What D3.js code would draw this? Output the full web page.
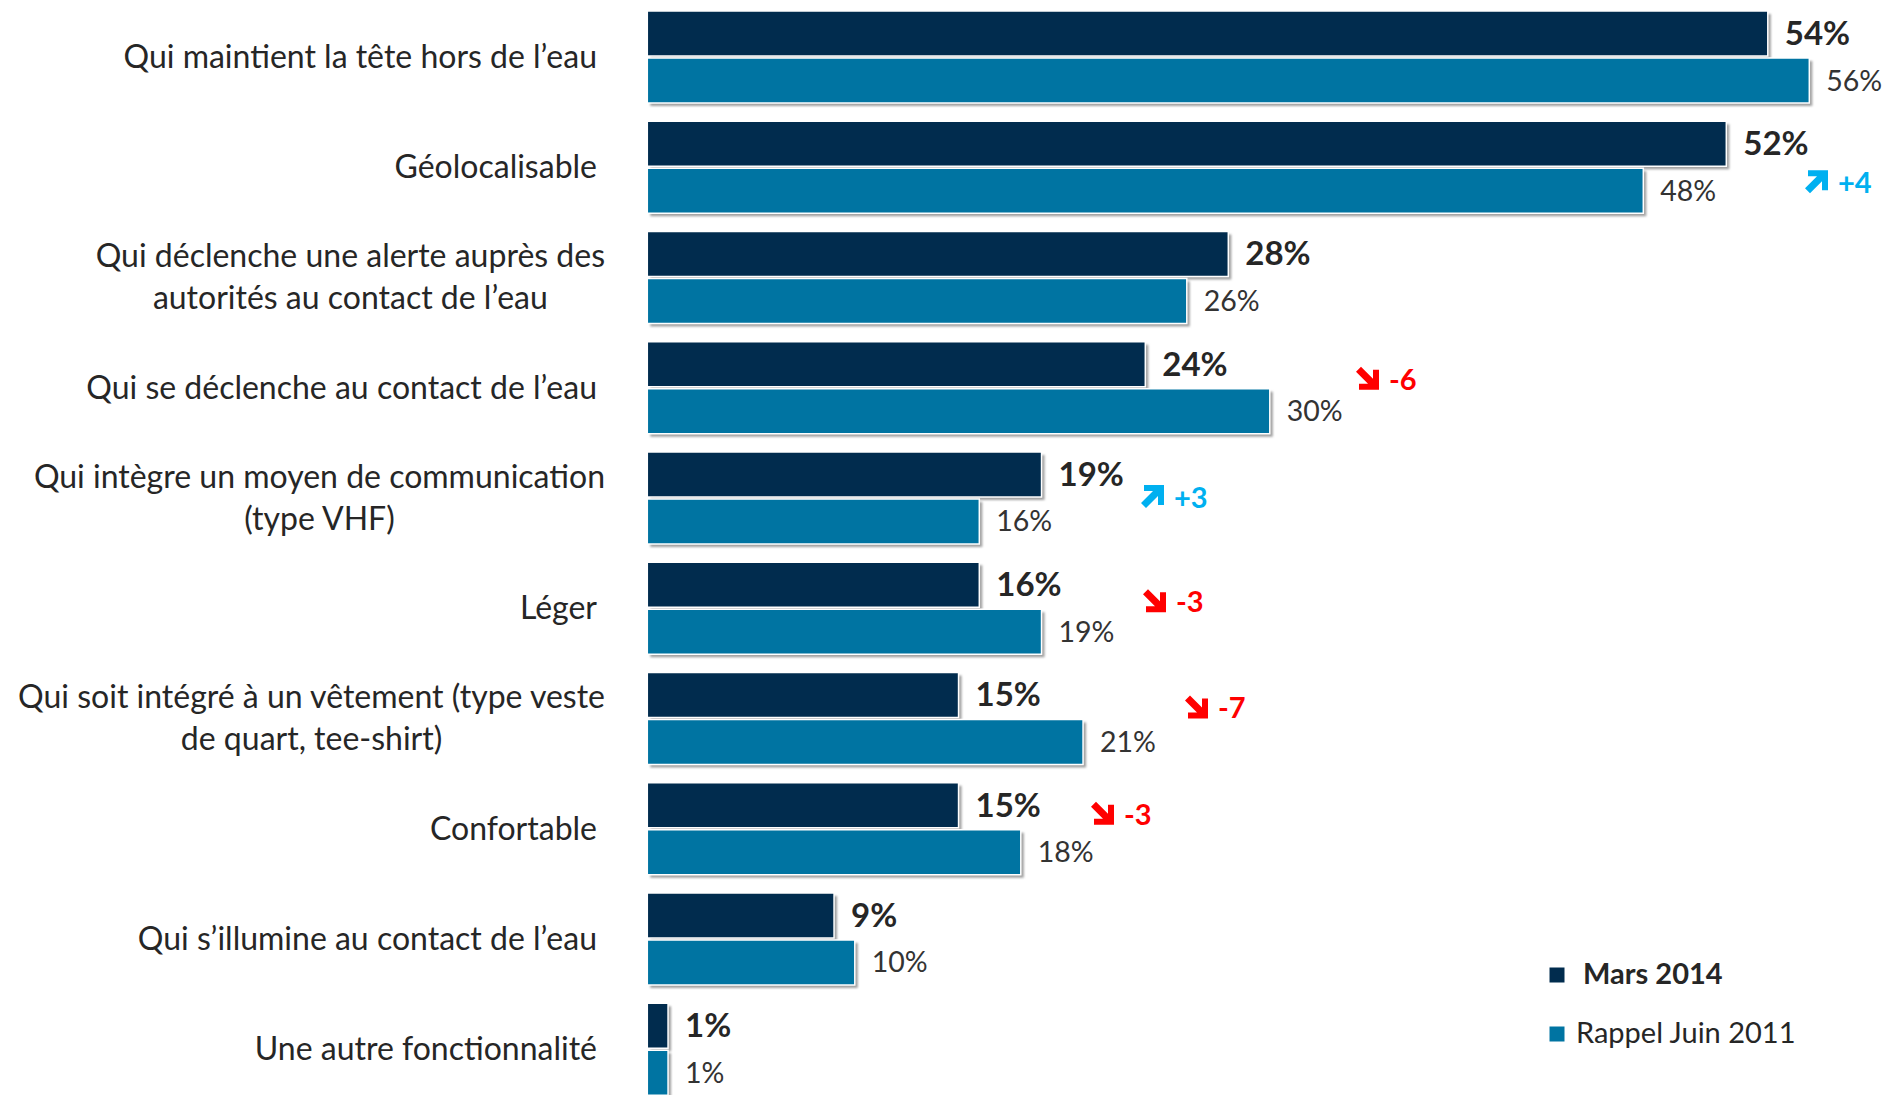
<!DOCTYPE html>
<html>
<head>
<meta charset="utf-8">
<script src="https://cdn.jsdelivr.net/npm/d3@7"></script>
<style>
  body { margin: 0; background: #fff; }
  text { font-family: Lato, "Open Sans", sans-serif; }
</style>
</head>
<body>
<svg id="chart" width="1886" height="1095"></svg>
<script>
// data
const categories = [
  ["Qui maintient la tête hors de l’eau"],
  ["Géolocalisable"],
  ["Qui déclenche une alerte auprès des", "autorités au contact de l’eau"],
  ["Qui se déclenche au contact de l’eau"],
  ["Qui intègre un moyen de communication", "(type VHF)"],
  ["Léger"],
  ["Qui soit intégré à un vêtement (type veste", "de quart, tee-shirt)"],
  ["Confortable"],
  ["Qui s’illumine au contact de l’eau"],
  ["Une autre fonctionnalité"]
];
const mars2014 = [54, 52, 28, 24, 19, 16, 15, 15, 9, 1];
const juin2011 = [56, 48, 26, 30, 16, 19, 21, 18, 10, 1];
const evolution = [null, 4, null, -6, 3, -3, -7, -3, null, null];
const seriesNames = ["Mars 2014", "Rappel Juin 2011"];

const colors = ["#012c4e", "#0074a2"];
const upColor = "#00b0f0", downColor = "#ff0000";

// where the evolution callouts sit: [x of arrow, baseline offset from row centre]
const evoLayout = {1: [1805, 26], 3: [1356, 2], 4: [1141, 10], 5: [1143, 4], 6: [1185, 0], 7: [1091, -4]};

const svg = d3.select("#chart");

const x = d3.scaleLinear().domain([0, 56]).range([647.3, 1809.3]);
const y = d3.scaleBand().domain(d3.range(categories.length)).range([11, 1095.25]).paddingInner(0.1655);
const ySub = d3.scaleBand().domain([0, 1]).range([0, y.bandwidth()]).paddingInner(2 / 47);

const defs = svg.append("defs");
defs.append("filter").attr("id", "soft")
  .attr("x", "-5%").attr("y", "-20%").attr("width", "110%").attr("height", "140%")
  .append("feGaussianBlur").attr("stdDeviation", 1);

const rows = categories.map((c, i) => ({i, label: c, vals: [mars2014[i], juin2011[i]], evo: evolution[i]}));

const row = svg.append("g").selectAll("g")
  .data(rows)
  .join("g")
  .attr("transform", d => `translate(0,${y(d.i)})`);

// bars with a light drop shadow
[0, 1].forEach(s => {
  row.append("rect")
    .attr("x", x(0) + 3)
    .attr("y", ySub(s) + 3)
    .attr("width", d => x(d.vals[s]) - x(0))
    .attr("height", ySub.bandwidth())
    .attr("fill", "#a0a0a0")
    .attr("filter", "url(#soft)");
  row.append("rect")
    .attr("x", x(0))
    .attr("y", ySub(s))
    .attr("width", d => x(d.vals[s]) - x(0))
    .attr("height", ySub.bandwidth())
    .attr("fill", colors[s])
    .attr("stroke", "#fff")
    .attr("stroke-width", 1.5);
});

// value labels
row.append("text")
  .attr("x", d => x(d.vals[0]) + 17)
  .attr("y", ySub(0) + ySub.bandwidth() / 2 + 11.5)
  .attr("font-size", 33)
  .attr("font-weight", "bold")
  .attr("fill", "#262626")
  .text(d => d.vals[0] + "%");

row.append("text")
  .attr("x", d => x(d.vals[1]) + 17)
  .attr("y", ySub(1) + ySub.bandwidth() / 2 + 10)
  .attr("font-size", 28.5)
  .attr("fill", "#333")
  .text(d => d.vals[1] + "%");

// category labels
row.each(function(d) {
  const g = d3.select(this);
  const mid = y.bandwidth() / 2;
  if (d.label.length === 1) {
    g.append("text")
      .attr("x", 597)
      .attr("y", mid + 11)
      .attr("text-anchor", "end")
      .attr("font-size", 32)
      .attr("fill", "#262626")
      .text(d.label[0]);
  } else {
    const t = g.append("text")
      .attr("text-anchor", "middle")
      .attr("font-size", 32)
      .attr("fill", "#262626");
    const spans = d.label.map((l, k) => t.append("tspan")
      .attr("y", mid - 21 + k * 42 + 11)
      .text(l));
    const w = d3.max(spans, s => s.node().getComputedTextLength());
    spans.forEach(s => s.attr("x", 605 - w / 2));
  }
});

// evolution callouts
const evoRows = rows.filter(d => d.evo !== null);
const evo = svg.append("g").selectAll("g")
  .data(evoRows)
  .join("g")
  .attr("transform", d => `translate(${evoLayout[d.i][0]},${y(d.i) + y.bandwidth() / 2 + evoLayout[d.i][1]})`);

evo.append("path")
  .attr("transform", "translate(0,-23)")
  .attr("d", d => d.evo > 0
    ? "M5,23 L17,11 L17,20 L23,20 L23,0 L3,0 L3,6 L12,6 L0,18 Z"
    : "M5,0 L17,12 L17,3 L23,3 L23,23 L3,23 L3,17 L12,17 L0,5 Z")
  .attr("fill", d => d.evo > 0 ? upColor : downColor);

evo.append("text")
  .attr("x", 33)
  .attr("font-size", 29)
  .attr("font-weight", "bold")
  .attr("fill", d => d.evo > 0 ? upColor : downColor)
  .text(d => (d.evo > 0 ? "+" : "-") + Math.abs(d.evo));

// legend
const legend = svg.append("g").selectAll("g")
  .data(seriesNames)
  .join("g")
  .attr("transform", (d, k) => `translate(1549,${967 + k * 59})`);

legend.append("rect")
  .attr("width", 16).attr("height", 16)
  .attr("fill", (d, k) => colors[k])
  .attr("stroke", "#fff").attr("stroke-width", 1);

legend.append("text")
  .attr("x", (d, k) => k === 0 ? 34 : 27)
  .attr("y", 17)
  .attr("font-size", 29)
  .attr("font-weight", (d, k) => k === 0 ? "bold" : "normal")
  .attr("fill", "#262626")
  .text(d => d);
</script>
</body>
</html>
